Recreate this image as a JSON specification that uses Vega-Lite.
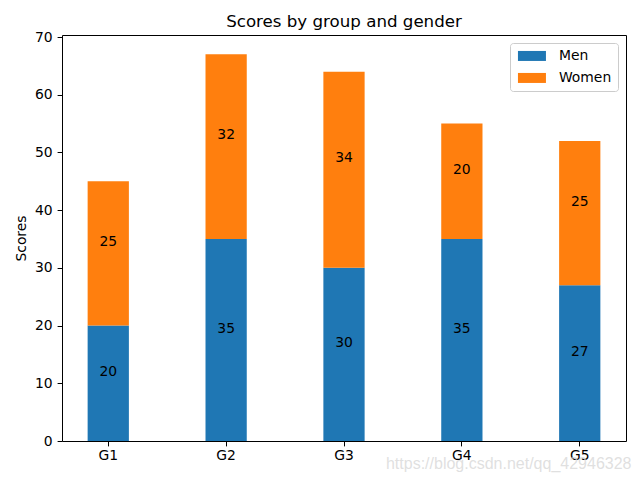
{
  "$schema": "https://vega.github.io/schema/vega-lite/v6.json",
  "autosize": "none",
  "width": 564,
  "height": 406,
  "padding": {"left": 62, "top": 35, "right": 14, "bottom": 39},
  "background": "white",
  "title": {
    "text": "Scores by group and gender",
    "font": "DejaVu Sans",
    "fontSize": 16.67,
    "fontWeight": "normal",
    "color": "black",
    "anchor": "middle",
    "offset": -1
  },
  "data": {
    "values": [
      {"group": "G1", "gender": "Men", "score": 20},
      {"group": "G2", "gender": "Men", "score": 35},
      {"group": "G3", "gender": "Men", "score": 30},
      {"group": "G4", "gender": "Men", "score": 35},
      {"group": "G5", "gender": "Men", "score": 27},
      {"group": "G1", "gender": "Women", "score": 25},
      {"group": "G2", "gender": "Women", "score": 32},
      {"group": "G3", "gender": "Women", "score": 34},
      {"group": "G4", "gender": "Women", "score": 20},
      {"group": "G5", "gender": "Women", "score": 25}
    ]
  },
  "encoding": {
    "x": {
      "field": "group",
      "type": "nominal",
      "scale": {"paddingInner": 0.65, "paddingOuter": 0.2175},
      "axis": {
        "labelAngle": 0,
        "labelFont": "DejaVu Sans",
        "labelFontSize": 13.9,
        "labelColor": "black",
        "tickColor": "black",
        "tickSize": 4.9,
        "labelPadding": 3,
        "domain": false,
        "title": "https://blog.csdn.net/qq_42946328",
        "titleFont": "Liberation Sans",
        "titleFontSize": 16,
        "titleFontWeight": "normal",
        "titleColor": "#d8d8d8",
        "titleOpacity": 0.8,
        "titleAnchor": "end",
        "titleAlign": "right",
        "titleX": 569,
        "titleY": 27,
        "titleBaseline": "alphabetic"
      }
    },
    "y": {
      "field": "score",
      "type": "quantitative",
      "stack": "zero",
      "scale": {"domain": [0, 70.35], "nice": false, "zero": true},
      "axis": {
        "title": "Scores",
        "titleFont": "DejaVu Sans",
        "titleFontSize": 13.9,
        "titleFontWeight": "normal",
        "titleColor": "black",
        "titlePadding": 6,
        "values": [0, 10, 20, 30, 40, 50, 60, 70],
        "grid": false,
        "labelFont": "DejaVu Sans",
        "labelFontSize": 13.9,
        "labelColor": "black",
        "tickColor": "black",
        "tickSize": 4.9,
        "labelPadding": 4.9,
        "domain": false
      }
    },
    "order": {"field": "gender", "sort": "ascending"}
  },
  "layer": [
    {
      "mark": {"type": "bar"},
      "encoding": {
        "color": {
          "field": "gender",
          "type": "nominal",
          "scale": {"domain": ["Men", "Women"], "range": ["#1f77b4", "#ff7f0e"]},
          "legend": {
            "title": null,
            "orient": "top-right",
            "offset": 8,
            "symbolType": "M-2.8,-1H2.8V1H-2.8Z",
            "symbolSize": 100,
            "symbolOffset": 9,
            "symbolStrokeWidth": 0,
            "symbolOpacity": 1,
            "labelFont": "DejaVu Sans",
            "labelFontSize": 13.9,
            "labelColor": "black",
            "labelOffset": 20,
            "rowPadding": 7,
            "padding": 6,
            "strokeColor": "#cccccc",
            "cornerRadius": 3,
            "fillColor": "rgba(255,255,255,0.8)"
          }
        }
      }
    },
    {
      "mark": {
        "type": "text",
        "font": "DejaVu Sans",
        "fontSize": 13.9,
        "color": "black",
        "baseline": "middle",
        "dy": -11.5
      },
      "encoding": {
        "y": {"field": "score", "type": "quantitative", "stack": "zero", "bandPosition": 0.5},
        "detail": {"field": "gender"},
        "text": {"field": "score"}
      }
    }
  ],
  "config": {
    "view": {"stroke": "black", "strokeWidth": 1}
  }
}
